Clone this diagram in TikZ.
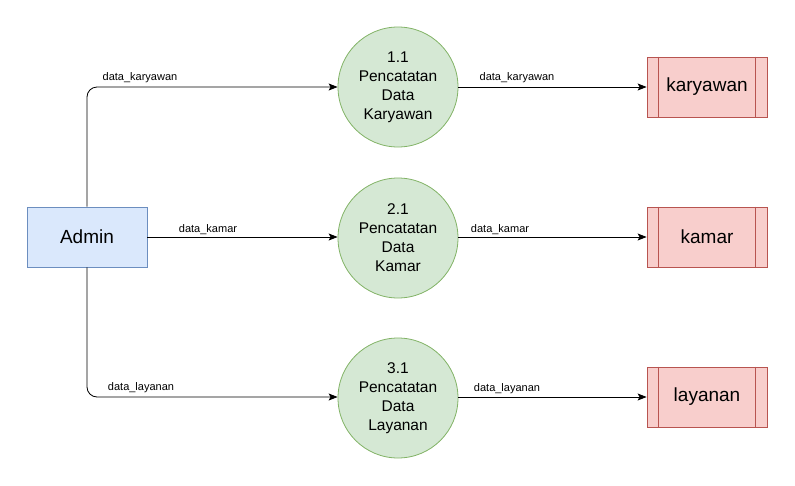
\documentclass[tikz,border=0pt]{standalone}
\usepackage{fontspec}
\setmainfont{Liberation Sans}
\usetikzlibrary{arrows.meta}
\definecolor{adminfill}{HTML}{DAE8FC}
\definecolor{adminline}{HTML}{6C8EBF}
\definecolor{procfill}{HTML}{D5E8D4}
\definecolor{procline}{HTML}{82B366}
\definecolor{storefill}{HTML}{F8CECC}
\definecolor{storeline}{HTML}{B85450}
\tikzset{
  entity/.style={draw=adminline,fill=adminfill,line width=0.8pt,minimum width=120pt,minimum height=60pt,inner sep=0pt,font=\fontsize{19}{22}\selectfont},
  proc/.style={circle,draw=procline,fill=procfill,line width=0.8pt,minimum size=120pt,inner sep=0pt,align=center,font=\fontsize{15.5}{19}\selectfont},
  store/.style={draw=storeline,fill=storefill,line width=0.8pt,minimum width=120pt,minimum height=60pt,inner sep=0pt,font=\fontsize{19}{22}\selectfont},
  flow/.style={draw=black,line width=0.8pt,-{Stealth[length=9pt,width=7pt,inset=2pt]},rounded corners=10pt},
  lbl/.style={font=\fontsize{11}{13}\selectfont,inner sep=0pt}
}
\newcommand{\storelines}[2]{%
  \draw[storeline,line width=0.8pt] ([xshift=12pt]#1.north west) -- ([xshift=12pt]#1.south west);
  \draw[storeline,line width=0.8pt] ([xshift=-12pt]#1.north east) -- ([xshift=-12pt]#1.south east);}
\begin{document}
\begin{tikzpicture}[x=1pt,y=-1pt]
\useasboundingbox (0,0) rectangle (795,485);
\node[entity] (admin) at (87,237) {Admin};
\node[proc] (p1) at (398,87) {1.1\\Pencatatan\\Data\\Karyawan};
\node[proc] (p2) at (398,238) {2.1\\Pencatatan\\Data\\Kamar};
\node[proc] (p3) at (398,398) {3.1\\Pencatatan\\Data\\Layanan};
\node[store] (s1) at (707,87) {karyawan};
\node[store] (s2) at (707,237) {kamar};
\node[store] (s3) at (707,397) {layanan};
\storelines{s1}{}
\storelines{s2}{}
\storelines{s3}{}
\coordinate (c1) at (87,87);
\coordinate (c3) at (87,397);
\draw[flow] (admin.north) -- (c1) -- (p1.west |- c1);
\draw[flow] (admin.east) -- (p2.west |- admin.east);
\draw[flow] (admin.south) -- (c3) -- (p3.west |- c3);
\draw[flow] (p1.east |- s1.west) -- (s1.west);
\draw[flow] (p2.east |- s2.west) -- (s2.west);
\draw[flow] (p3.east |- s3.west) -- (s3.west);
\node[lbl] (l1) at (140,78) {data\_karyawan};
\node[lbl] (l2) at (208,230) {data\_kamar};
\node[lbl] (l3) at (141,388) {data\_layanan};
\node[lbl] (l4) at (517,78) {data\_karyawan};
\node[lbl] (l5) at (500,230) {data\_kamar};
\node[lbl] (l6) at (507,389) {data\_layanan};
\end{tikzpicture}
\end{document}
